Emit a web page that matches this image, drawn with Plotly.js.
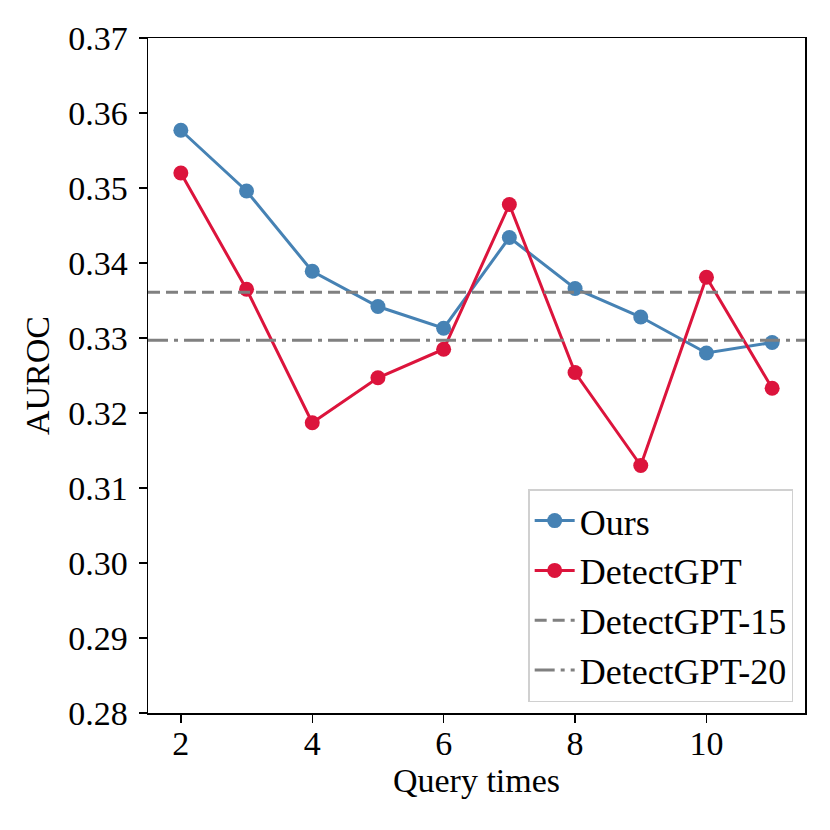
<!DOCTYPE html>
<html>
<head>
<meta charset="utf-8">
<script src="https://cdn.plot.ly/plotly-3.0.1.min.js"></script>
<style>html,body{margin:0;padding:0;background:#fff;}#chart{width:830px;height:830px;}</style>
</head>
<body>
<div id="chart"></div>
<script>
const queryTimes = [2, 3, 4, 5, 6, 7, 8, 9, 10, 11];
const oursAUROC = [0.3577, 0.3496, 0.3389, 0.3342, 0.3313, 0.3434, 0.3366, 0.3328, 0.3280, 0.3294];
const detectGPTAUROC = [0.3520, 0.3365, 0.3187, 0.3247, 0.3285, 0.3478, 0.3254, 0.3130, 0.3381, 0.3233];
const detectGPT15 = 0.3361;
const detectGPT20 = 0.3297;
const seriesNames = ["Ours", "DetectGPT", "DetectGPT-15", "DetectGPT-20"];
const xRange = [1.5, 11.5];
const yRange = [0.28, 0.37];
const yTickVals = [0.28, 0.29, 0.30, 0.31, 0.32, 0.33, 0.34, 0.35, 0.36, 0.37];
const xTickVals = [2, 4, 6, 8, 10];

const FONT = "Liberation Serif, Times New Roman, serif";

const traces = [
  {
    x: queryTimes, y: oursAUROC, name: seriesNames[0], type: "scatter", mode: "lines+markers",
    line: {color: "#4682B4", width: 3}, marker: {color: "#4682B4", size: 15}
  },
  {
    x: queryTimes, y: detectGPTAUROC, name: seriesNames[1], type: "scatter", mode: "lines+markers",
    line: {color: "#DC143C", width: 3}, marker: {color: "#DC143C", size: 15}
  },
  {
    x: xRange, y: [detectGPT15, detectGPT15], name: seriesNames[2], type: "scatter", mode: "lines",
    line: {color: "#808080", width: 3, dash: "12px,6px"}
  },
  {
    x: xRange, y: [detectGPT20, detectGPT20], name: seriesNames[3], type: "scatter", mode: "lines",
    line: {color: "#808080", width: 3, dash: "20px,6px,4px,6px"}
  }
];

const layout = {
  width: 830, height: 830,
  margin: {l: 148, r: 25, t: 38, b: 117},
  paper_bgcolor: "#fff", plot_bgcolor: "#fff",
  font: {family: FONT, color: "#000", size: 34},
  showlegend: true,
  legend: {
    x: 0.982, xanchor: "right", y: 0.016, yanchor: "bottom",
    bgcolor: "rgba(255,255,255,0.8)", bordercolor: "#d0d0d0", borderwidth: 1.5,
    font: {family: FONT, size: 36, color: "#000"},
    tracegroupgap: 0, itemwidth: 40
  },
  xaxis: {
    range: xRange, tickvals: xTickVals, ticktext: xTickVals.map(String),
    showgrid: false, zeroline: false, showline: true, mirror: true,
    linecolor: "#000", linewidth: 1.5, ticks: "outside", ticklen: 8, tickwidth: 1.5, tickcolor: "#000",
    tickfont: {family: FONT, size: 34}, ticklabelstandoff: -8,
    title: {text: "Query times", font: {family: FONT, size: 34}, standoff: 2}
  },
  yaxis: {
    range: yRange, tickvals: yTickVals, ticktext: yTickVals.map(v => v.toFixed(2)),
    showgrid: false, zeroline: false, showline: true, mirror: true,
    linecolor: "#000", linewidth: 1.5, ticks: "outside", ticklen: 8, tickwidth: 1.5, tickcolor: "#000",
    tickfont: {family: FONT, size: 34}, ticklabelstandoff: 4,
    title: {text: "AUROC", font: {family: FONT, size: 34}, standoff: 8}
  }
};

Plotly.newPlot("chart", traces, layout, {displayModeBar: false, staticPlot: true});
</script>
</body>
</html>
